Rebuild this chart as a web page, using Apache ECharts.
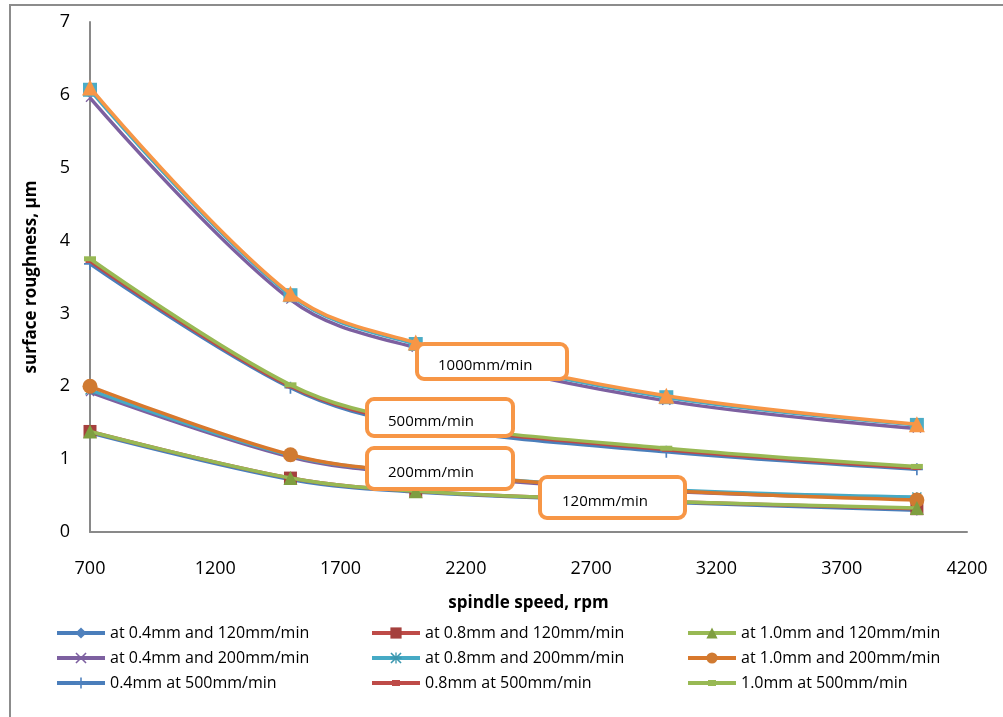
<!DOCTYPE html>
<html>
<head>
<meta charset="utf-8">
<script src="https://cdn.jsdelivr.net/npm/echarts@6/dist/echarts.min.js"></script>
<style>html,body{margin:0;padding:0;background:#fff}#c{width:1003px;height:717px}</style>
</head>
<body>
<div id="c"></div>
<script>
// spindle speed, rpm
const speeds = [700, 1500, 2000, 3000, 4000];
// tick labels
const xTicks = [700, 1200, 1700, 2200, 2700, 3200, 3700, 4200];
const yTicks = [0, 1, 2, 3, 4, 5, 6, 7];

// surface roughness, µm
const d04_120 = [1.36, 0.72, 0.55, 0.41, 0.30];
const d08_120 = [1.38, 0.74, 0.56, 0.42, 0.32];
const d10_120 = [1.38, 0.74, 0.56, 0.42, 0.33];
const d04_200 = [1.92, 1.03, 0.80, 0.56, 0.46];
const d08_200 = [1.95, 1.05, 0.82, 0.58, 0.48];
const d10_200 = [2.00, 1.06, 0.82, 0.57, 0.44];
const d04_500 = [3.68, 1.98, 1.47, 1.10, 0.86];
const d08_500 = [3.72, 2.00, 1.50, 1.13, 0.88];
const d10_500 = [3.75, 2.02, 1.52, 1.15, 0.90];
const d04_1000 = [5.96, 3.19, 2.53, 1.80, 1.42];
const d08_1000 = [6.07, 3.25, 2.58, 1.85, 1.47];
const d10_1000 = [6.10, 3.27, 2.60, 1.87, 1.48];

const names = [
  'at 0.4mm and 120mm/min', 'at 0.8mm and 120mm/min', 'at 1.0mm and 120mm/min',
  'at 0.4mm and 200mm/min', 'at 0.8mm and 200mm/min', 'at 1.0mm and 200mm/min',
  '0.4mm at 500mm/min', '0.8mm at 500mm/min', '1.0mm at 500mm/min',
  'at 0.4mm and 1000mm/min', 'at 0.8mm and 1000mm/min', 'at 1.0mm and 1000mm/min'
];
const annotations = ['1000mm/min', '500mm/min', '200mm/min', '120mm/min'];

const XSYM = 'path://M1,0L5,4L9,0L10,1L6,5L10,9L9,10L5,6L1,10L0,9L4,5L0,1Z';
const PLUS = 'path://M4.3,0H5.7V4.3H10V5.7H5.7V10H4.3V5.7H0V4.3H4.3Z';
const STAR = 'path://M1,0L4.4,3.4V0H5.6V3.4L9,0L10,1L6.6,4.4H10V5.6H6.6L10,9L9,10L5.6,6.6V10H4.4V6.6L1,10L0,9L3.4,5.6H0V4.4H3.4L0,1Z';
const DASH_ICON = 'path://M0,5H48V9H0Z M20,4H28V10H20Z';

const styles = [
  {c:'#4A7EBB', m:'#4F81BD', s:'diamond', z:11},
  {c:'#BE4B48', m:'#A5403D', s:'rect', z:12},
  {c:'#98B954', m:'#7F9E40', s:'triangle', z:14},
  {c:'#7D60A0', m:'#7D60A0', s:XSYM, z:10},
  {c:'#46AAC5', m:'#3C97AF', s:STAR, z:11},
  {c:'#D8782C', m:'#D07A31', s:'circle', z:12},
  {c:'#4A7EBB', m:'#4F81BD', s:PLUS, z:10},
  {c:'#BE4B48', m:'#BE4B48', s:'rect', z:11},
  {c:'#98B954', m:'#98B954', s:'rect', z:12},
  {c:'#7D60A0', m:'#7D60A0', s:XSYM, z:10},
  {c:'#46AAC5', m:'#4BACC6', s:'rect', z:11},
  {c:'#F79646', m:'#F79646', s:'triangle', z:12}
];
const sizes = [11, 13, 14, 9, 10, 15, 12, [9,4], [12,5], 9, 14, 16];
const allData = [d04_120, d08_120, d10_120, d04_200, d08_200, d10_200,
                 d04_500, d08_500, d10_500, d04_1000, d08_1000, d10_1000];

const series = allData.map((vals, i) => ({
  name: names[i],
  type: 'line',
  smooth: 0.35,
  data: vals.map((v, k) => [speeds[k], v]),
  symbol: styles[i].s,
  symbolSize: sizes[i],
  showAllSymbol: true,
  z: styles[i].z,
  lineStyle: {color: styles[i].c, width: 3.5},
  itemStyle: {color: styles[i].m, borderWidth: 0},
  emphasis: {disabled: true}
}));

const font = 'Open Sans, Liberation Sans, sans-serif';
const legendText = {fontFamily: font, fontSize: 16, color: '#000', lineHeight: 16};
const legendCommon = {orient: 'vertical', top: 625, itemGap: 9, itemWidth: 48, itemHeight: 14,
  textStyle: legendText, selectedMode: false, padding: 0, lineStyle: {width: 4}};

function box(x, y, w, h, text, tx) {
  return [
    {type: 'rect', z: 100, shape: {x: x, y: y, width: w, height: h, r: 7},
     style: {fill: '#fff', stroke: '#F79646', lineWidth: 4}},
    {type: 'text', z: 101, style: {x: tx, y: y + h / 2 + 4, text: text, fill: '#000',
     font: '15px ' + font, verticalAlign: 'middle', textAlign: 'left'}}
  ];
}

const option = {
  animation: false,
  backgroundColor: '#fff',
  grid: {left: 90, right: 36, top: 22, bottom: 185, containLabel: false},
  xAxis: {
    type: 'value', min: xTicks[0], max: xTicks[xTicks.length - 1], interval: xTicks[1] - xTicks[0],
    name: 'spindle speed, rpm', nameLocation: 'middle', nameGap: 63,
    nameTextStyle: {fontFamily: font, fontSize: 17, fontWeight: 'bold', color: '#000'},
    axisLine: {show: true, lineStyle: {color: '#898989', width: 2}},
    axisTick: {show: false},
    splitLine: {show: false},
    axisLabel: {margin: 28, fontFamily: font, fontSize: 18, color: '#000',
      formatter: v => String(v)}
  },
  yAxis: {
    type: 'value', min: yTicks[0], max: yTicks[yTicks.length - 1], interval: yTicks[1] - yTicks[0],
    name: 'surface roughness, µm', nameLocation: 'middle', nameGap: 50,
    nameTextStyle: {fontFamily: font, fontSize: 17, fontWeight: 'bold', color: '#000'},
    axisLine: {show: true, lineStyle: {color: '#898989', width: 2}},
    axisTick: {show: false},
    splitLine: {show: false},
    axisLabel: {margin: 20, fontFamily: font, fontSize: 18, color: '#000'}
  },
  legend: [
    Object.assign({left: 55, data: [names[0], names[3], names[6]]}, legendCommon),
    Object.assign({left: 370, data: [names[1], names[4], {name: names[7], icon: DASH_ICON}]}, legendCommon),
    Object.assign({left: 686, data: [names[2], names[5], {name: names[8], icon: DASH_ICON}]}, legendCommon)
  ],
  graphic: [
    {type: 'rect', z: 0, silent: true, shape: {x: 10, y: 5, width: 1200, height: 900},
     style: {fill: 'none', stroke: '#8c8c8c', lineWidth: 2}}
  ].concat(
    box(417, 344, 150, 35, annotations[0], 438),
    box(367, 399, 146, 37, annotations[1], 388),
    box(367, 448, 146, 41, annotations[2], 388),
    box(540, 477, 145, 41, annotations[3], 562)
  ),
  series: series
};

const chart = echarts.init(document.getElementById('c'), null, {renderer: 'canvas'});
chart.setOption(option);
</script>
</body>
</html>
